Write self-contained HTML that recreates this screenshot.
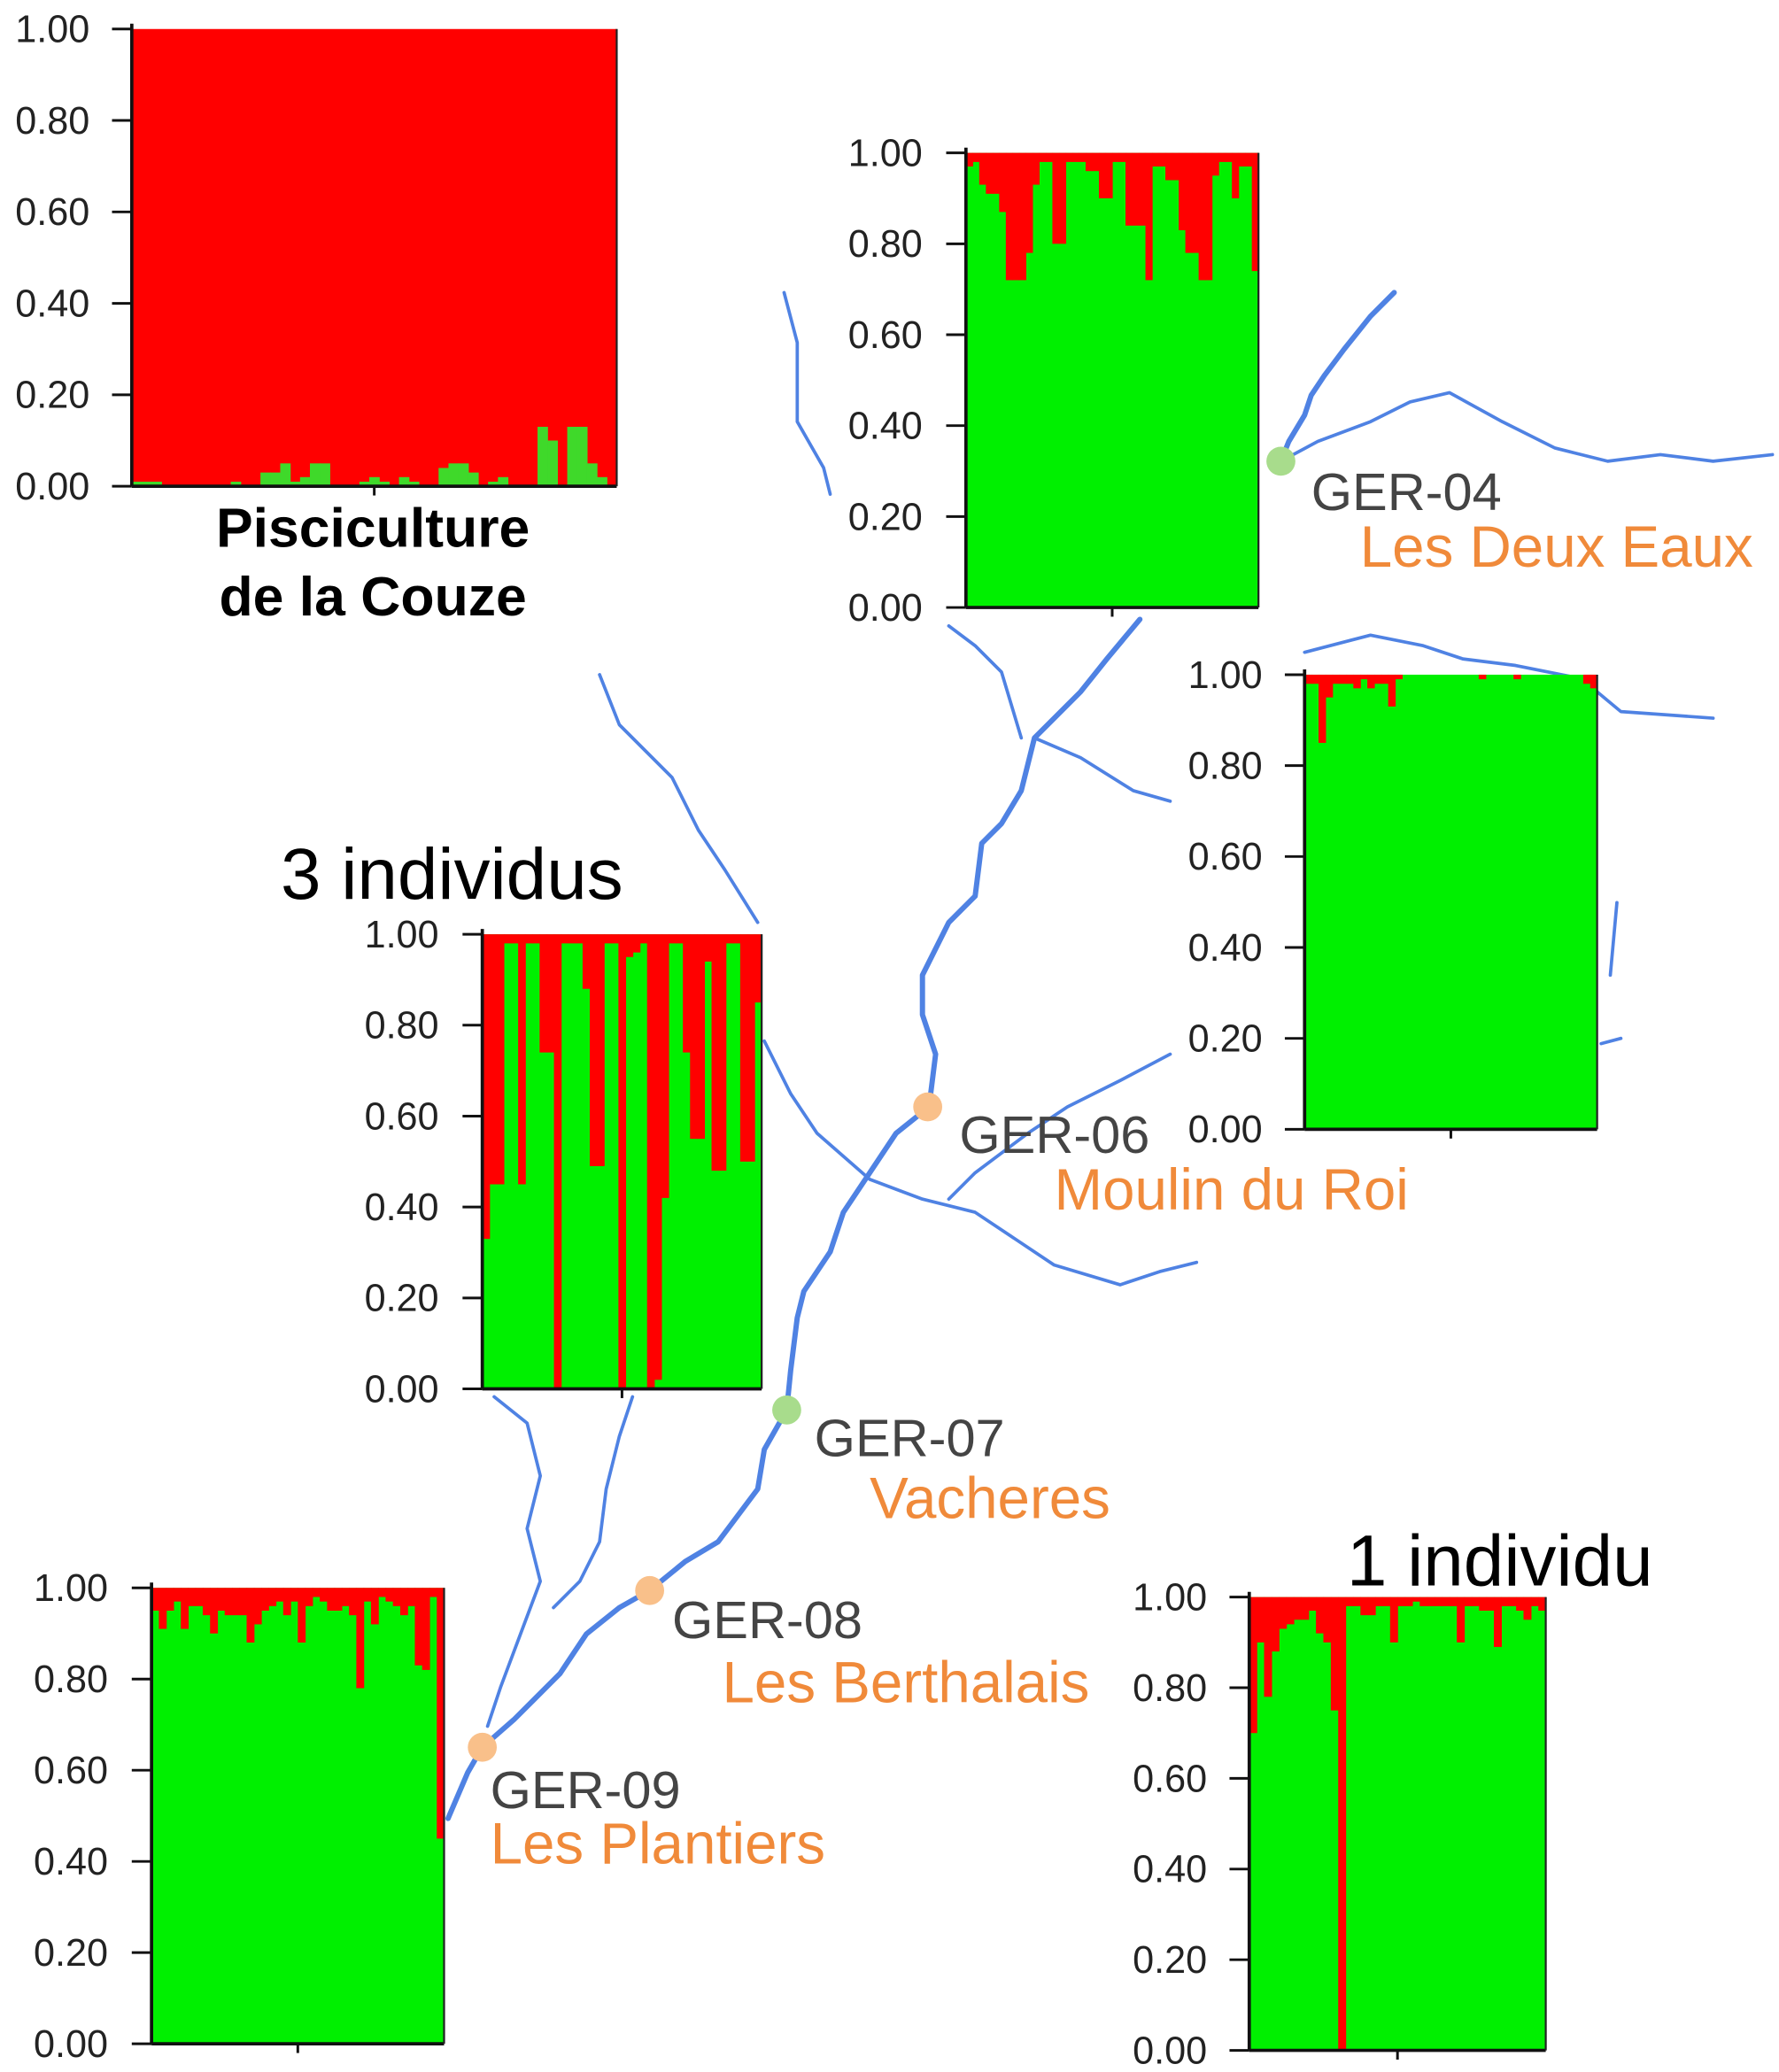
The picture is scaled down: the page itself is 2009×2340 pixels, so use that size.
<!DOCTYPE html>
<html><head><meta charset="utf-8"><style>html,body{margin:0;padding:0;background:#fff}svg{display:block}</style></head>
<body>
<svg id="s" xmlns="http://www.w3.org/2000/svg" width="2009" height="2340" viewBox="0 0 1350 1572.4">
<rect width="1350" height="1573" fill="#fff"/>
<g id="rivers" fill="none" stroke="#4f82e3" stroke-width="2.5" stroke-linejoin="round" stroke-linecap="round">
<polyline stroke-width="4" points="1058,222 1040,240 1020,265 1005,285 995,300 990,315 978,335 972,350"/>
<polyline stroke-width="4" points="865,470 840,500 820,525 785,560 775,600 760,625 745,640 740,680 720,700 700,740 700,770 710,800 705,840 680,860 660,890 640,920 630,950 610,980 605,1000 600,1040 597,1070 580,1100 575,1130 560,1150 545,1170 520,1185 493,1207 470,1220 445,1240 425,1270 405,1290 390,1305 366,1326 355,1345 340,1380"/>
<polyline points="972,350 1000,335 1040,320 1070,305 1100,298 1140,320 1180,340 1220,350 1260,345 1300,350 1345,345"/>
<polyline points="595,222 605,260 605,320 625,355 630,375"/>
<polyline points="455,512 470,550 510,590 530,630 550,660 575,700"/>
<polyline points="580,790 600,830 620,860 660,895 700,910 740,920 770,940 800,960 850,975 880,965 908,958"/>
<polyline points="720,910 740,890 780,860 810,840 850,820 888,800"/>
<polyline points="720,475 740,490 760,510 775,560"/>
<polyline points="785,560 820,575 860,600 888,608"/>
<polyline points="990,495 1040,482 1080,490 1110,500 1150,505 1200,515 1230,540 1300,545"/>
<polyline points="1227,685 1222,740"/>
<polyline points="1215,792 1230,788"/>
<polyline points="375,1060 400,1080 410,1120 400,1160 410,1200 395,1240 380,1280 370,1310"/>
<polyline points="480,1060 470,1090 460,1130 455,1170 440,1200 420,1220"/>
</g>
<g id="charts"></g>
<g font-family="Liberation Sans, sans-serif">
<circle cx="972" cy="350" r="11" fill="#a8dc8c"/>
<circle cx="597" cy="1070" r="11" fill="#a8dc8c"/>
<circle cx="704" cy="840" r="11" fill="#f9c08a"/>
<circle cx="493" cy="1207" r="11" fill="#f9c08a"/>
<circle cx="366" cy="1326" r="11" fill="#f9c08a"/>
<g font-size="40" fill="#444">
<text x="995" y="387">GER-04</text><text x="728" y="875">GER-06</text>
<text x="618" y="1105">GER-07</text><text x="510" y="1243">GER-08</text><text x="372" y="1372">GER-09</text></g>
<g font-size="44" fill="#f08a3a">
<text x="1032" y="430">Les Deux Eaux</text><text x="800" y="918">Moulin du Roi</text>
<text x="660" y="1152">Vacheres</text><text x="548" y="1292">Les Berthalais</text><text x="372" y="1414">Les Plantiers</text></g>
<g font-size="55" fill="#000"><text x="213" y="682">3 individus</text><text x="1022" y="1203">1 individu</text></g>
<g font-size="42" font-weight="bold" fill="#000" text-anchor="middle"><text x="283" y="415">Pisciculture</text><text x="283" y="467">de la Couze</text></g>
</g>
</svg>
<script>
var NS="http://www.w3.org/2000/svg",G=document.getElementById("charts");
function el(t,a,p){var e=document.createElementNS(NS,t);for(var k in a)e.setAttribute(k,a[k]);(p||G).appendChild(e);return e;}
function chart(x0,x1,top,bot,red,lx,invert){
 var W=x1-x0,H=bot-top,n=red.length,w=W/n;
 el("rect",{x:x0,y:top,width:W,height:H,fill:invert?"#ff0000":"#00f000"});
 for(var i=0;i<n;i++){var r=red[i];
  if(invert){el("rect",{x:x0+i*w,y:bot-r*H,width:w+0.4,height:r*H,fill:"#3fd92a"});}
  else{el("rect",{x:x0+i*w,y:top,width:w+0.4,height:r*H,fill:"#ff0000"});}}
 el("line",{x1:x0,y1:top-4,x2:x0,y2:bot,stroke:"#111","stroke-width":2.5});
 el("line",{x1:x0,y1:bot,x2:x1,y2:bot,stroke:"#111","stroke-width":2.5});
 el("line",{x1:x1,y1:top,x2:x1,y2:bot,stroke:"#222","stroke-width":1.5});
 el("line",{x1:(x0+x1)/2,y1:bot,x2:(x0+x1)/2,y2:bot+7,stroke:"#111","stroke-width":2});
 var lab=["1.00","0.80","0.60","0.40","0.20","0.00"];
 for(var j=0;j<6;j++){var y=top+j*H/5;
  el("line",{x1:x0-15,y1:y,x2:x0,y2:y,stroke:"#111","stroke-width":2});
  var t=el("text",{x:lx,y:y+10,"text-anchor":"end","font-family":"Liberation Sans, sans-serif","font-size":29,fill:"#222"});t.textContent=lab[j];}
}
chart(100,468,22,369,[0.01,0.01,0.01,0,0,0,0,0,0,0,0.01,0,0,0.03,0.03,0.05,0.01,0.02,0.05,0.05,0,0,0,0.01,0.02,0.01,0,0.02,0.01,0,0,0.04,0.05,0.05,0.03,0,0.01,0.02,0,0,0,0.13,0.1,0,0.13,0.13,0.05,0.02,0],68,true);
chart(733,955,116,461,[0.03,0.02,0.07,0.09,0.09,0.13,0.28,0.28,0.28,0.22,0.07,0.02,0.02,0.2,0.2,0.02,0.02,0.02,0.04,0.04,0.1,0.1,0.02,0.02,0.16,0.16,0.16,0.28,0.03,0.03,0.06,0.06,0.17,0.22,0.22,0.28,0.28,0.05,0.02,0.02,0.1,0.03,0.03,0.26],700);
chart(990,1212,512,857,[0.02,0.02,0.15,0.05,0.02,0.02,0.02,0.03,0.01,0.03,0.02,0.02,0.07,0.01,0,0,0,0,0,0,0,0,0,0,0,0.01,0,0,0,0,0.01,0,0,0,0,0,0,0,0,0,0.02,0.03],958);
chart(366,578,709,1054,[0.67,0.55,0.55,0.02,0.02,0.55,0.02,0.02,0.26,0.26,1.0,0.02,0.02,0.02,0.12,0.51,0.51,0.02,0.02,1.0,0.05,0.04,0.02,1.0,0.98,0.58,0.02,0.02,0.26,0.45,0.45,0.06,0.52,0.52,0.02,0.02,0.5,0.5,0.15],333);
chart(115,337,1205,1551,[0.05,0.09,0.05,0.03,0.09,0.04,0.04,0.06,0.1,0.05,0.06,0.06,0.06,0.12,0.08,0.05,0.04,0.03,0.06,0.03,0.12,0.04,0.02,0.03,0.05,0.05,0.04,0.06,0.22,0.03,0.08,0.02,0.03,0.04,0.06,0.04,0.17,0.18,0.02,0.55],82);
chart(948,1173,1212,1556,[0.3,0.1,0.22,0.12,0.07,0.06,0.05,0.05,0.03,0.08,0.1,0.25,1.0,0.02,0.02,0.04,0.04,0.02,0.02,0.1,0.02,0.02,0.01,0.02,0.02,0.02,0.02,0.02,0.1,0.02,0.02,0.03,0.03,0.11,0.02,0.02,0.03,0.05,0.02,0.03],916);
</script>
</body></html>
